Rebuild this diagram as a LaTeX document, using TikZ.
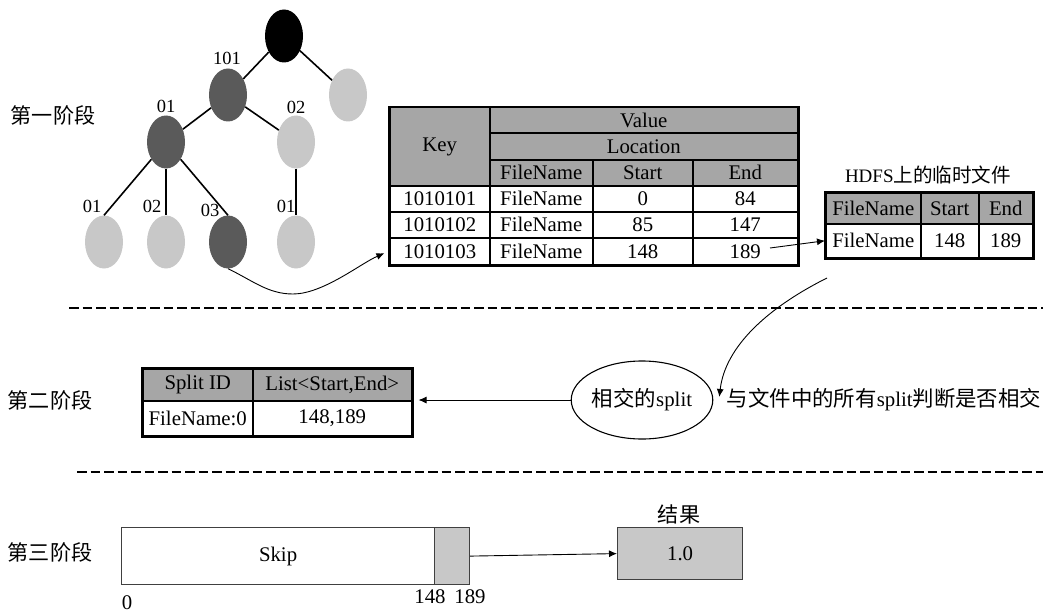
\documentclass[tikz,border=0pt]{standalone}
\usepackage{fontspec}
\setmainfont{Liberation Serif}
\newfontfamily\cjk{Noto Sans CJK SC}[Scale=1.03]
\usetikzlibrary{arrows.meta,calc,shapes.geometric}

\definecolor{nodedark}{HTML}{5A5A5A}
\definecolor{nodelight}{HTML}{C8C8C8}
\definecolor{headgray}{HTML}{A6A6A6}
\definecolor{bargray}{HTML}{C8C8C8}

\begin{document}
\begin{tikzpicture}[x=1pt,y=-1pt,
  every node/.style={font=\fontsize{20.8}{24}\selectfont, inner sep=0pt},
  treenode/.style={ellipse, minimum width=38pt, minimum height=53pt},
  dark/.style={treenode, fill=nodedark},
  light/.style={treenode, fill=nodelight},
  lbl/.style={font=\fontsize{18.5}{20}\selectfont},
  edge/.style={line width=1.6pt},
  cell/.style={draw, line width=1.5pt, anchor=north west},
  hd/.style={cell, fill=headgray},
  sz/.style 2 args={minimum width=#1pt, minimum height=#2pt},
  frame/.style={draw, line width=2pt},
  arr/.style={line width=0.9pt, -{Latex[length=8pt,width=7pt]}},
  sep/.style={line width=2.2pt, dash pattern=on 9.5pt off 4pt},
  barbox/.style={draw=black!75, line width=1.2pt, anchor=north west},
  stage/.style={font=\cjk\fontsize{20.5}{24}\selectfont},
]
\useasboundingbox (0,0) rectangle (1043,615);

% ---------- stage labels ----------
\node[stage] (st1) at (53,115) {第一阶段};
\node[stage] (st2) at (50,400) {第二阶段};
\node[stage] (st3) at (50,552) {第三阶段};

% ---------- key tree ----------
\node[fill=black, treenode] (root) at (284,36) {};
\node[light] (r2)   at (348,95)  {};
\node[dark]  (n101) at (228,95)  {};
\node[dark]  (n01)  at (166,142) {};
\node[light] (n02)  at (296,142) {};
\node[light] (c1)   at (104,242) {};
\node[light] (c2)   at (166,242) {};
\node[dark]  (c3)   at (228,242) {};
\node[light] (c4)   at (296,242) {};

\draw[edge] (root) -- (n101);
\draw[edge] (root) -- (r2);
\draw[edge] (n101) -- (n01);
\draw[edge] (n101) -- (n02);
\draw[edge] (n01) -- (c1.north);
\draw[edge] (n01) -- (c2.north);
\draw[edge] (n01) -- (c3.north);
\draw[edge] (n02) -- (c4.north);

\node[lbl] (l101) at (227,58)  {101};
\node[lbl] (l01)  at (166,106) {01};
\node[lbl] (l02)  at (296,107) {02};
\node[lbl] (lc1)  at (92,206)  {01};
\node[lbl] (lc2)  at (152,206) {02};
\node[lbl] (lc3)  at (210,210) {03};
\node[lbl] (lc4)  at (286,206) {01};

% ---------- key / location table ----------
\node[hd, sz={100}{78}]  (k0)  at (389,107) {Key};
\node[hd, sz={308}{25}]  (val) at (489,107) {Value};
\node[hd, sz={308}{27}]  (loc) at (489,132) {Location};
\node[hd, sz={103}{26}]  (hf)  at (489,159) {FileName};
\node[hd, sz={100}{26}]  (hs)  at (592,159) {Start};
\node[hd, sz={105}{26}]  (he)  at (692,159) {End};

\node[cell, sz={100}{26}] (k1) at (389,185) {1010101};
\node[cell, sz={103}{26}] (f1) at (489,185) {FileName};
\node[cell, sz={100}{26}] (s1) at (592,185) {0};
\node[cell, sz={105}{26}] (e1) at (692,185) {84};

\node[cell, sz={100}{26}] (k2) at (389,211) {1010102};
\node[cell, sz={103}{26}] (f2) at (489,211) {FileName};
\node[cell, sz={100}{26}] (s2) at (592,211) {85};
\node[cell, sz={105}{26}] (e2) at (692,211) {147};

\node[cell, sz={100}{27}] (k3) at (389,237) {1010103};
\node[cell, sz={103}{27}] (f3) at (489,237) {FileName};
\node[cell, sz={100}{27}] (s3) at (592,237) {148};
\node[cell, sz={105}{27}] (e3) at (692,237) {189};

\draw[frame] (k0.north west) rectangle (e3.south east);

% ---------- temporary file on HDFS ----------
\node[font=\fontsize{19}{22}\selectfont] (htitle) at (928,175) {HDFS{\cjk 上的临时文件}};
\node[hd, sz={95}{31}]   (h1) at (825,192) {FileName};
\node[hd, sz={58}{31}]   (h2) at (920,192) {Start};
\node[hd, sz={54}{31}]   (h3) at (978,192) {End};
\node[cell, sz={95}{34}] (d1) at (825,223) {FileName};
\node[cell, sz={58}{34}] (d2) at (920,223) {148};
\node[cell, sz={54}{34}] (d3) at (978,223) {189};
\draw[frame] (h1.north west) rectangle (d3.south east);

% ---------- stage separators ----------
\draw[sep] (69,308) -- (1043,308);
\draw[sep] (77,472) -- (1043,472);

% ---------- stage two ----------
\node[hd, sz={110}{32}]   (a1) at (142,368) {Split ID};
\node[hd, sz={159}{32}]   (a2) at (252,368) {List<Start,End>};
\node[cell, sz={110}{35}] (b1) at (142,400) {FileName:0};
\node[cell, sz={159}{35}] (b2) at (252,400) {148,189};
\draw[frame] (a1.north west) rectangle (b2.south east);

\node[ellipse, draw, line width=1.1pt, minimum width=124pt, minimum height=78pt]
  (sp) at (642,400) {{\cjk 相交的}split};
\node (note) at (884,400) {{\cjk 与文件中的所有}split{\cjk 判断是否相交}};

% ---------- stage three ----------
\node[barbox, fill=white,   sz={313}{57}] (skip) at (121,527) {Skip};
\node[barbox, fill=bargray, sz={35}{57}]  (g)    at (434,527) {};
\node[barbox, fill=bargray, sz={125}{52}] (res)  at (617,527) {1.0};
\node[stage] (restitle) at (679,514) {结果};
\node (t0)   at (127,603) {0};
\node (t148) at (430,597) {148};
\node (t189) at (470,597) {189};

% ---------- connectors ----------
\draw[arr, shorten >=5pt] (c3.south) .. controls +(25,12) and +(-25,0) .. (293,294)
  .. controls +(30,0) and +(-28,12) .. (k3.west);
\coordinate (e3x) at (770,248);
\draw[arr] (e3x) -- (d1.west);
\coordinate (hx) at (827,278);
\draw[arr] (hx) .. controls (767,308) and (725,347) .. ($(sp.east)+(6,-3)$);
\draw[arr] (sp.west) -- ($(sp.west -| b2.east)+(6,0)$);
\draw[arr] (g.east) -- (res.west);
\end{tikzpicture}
\end{document}
